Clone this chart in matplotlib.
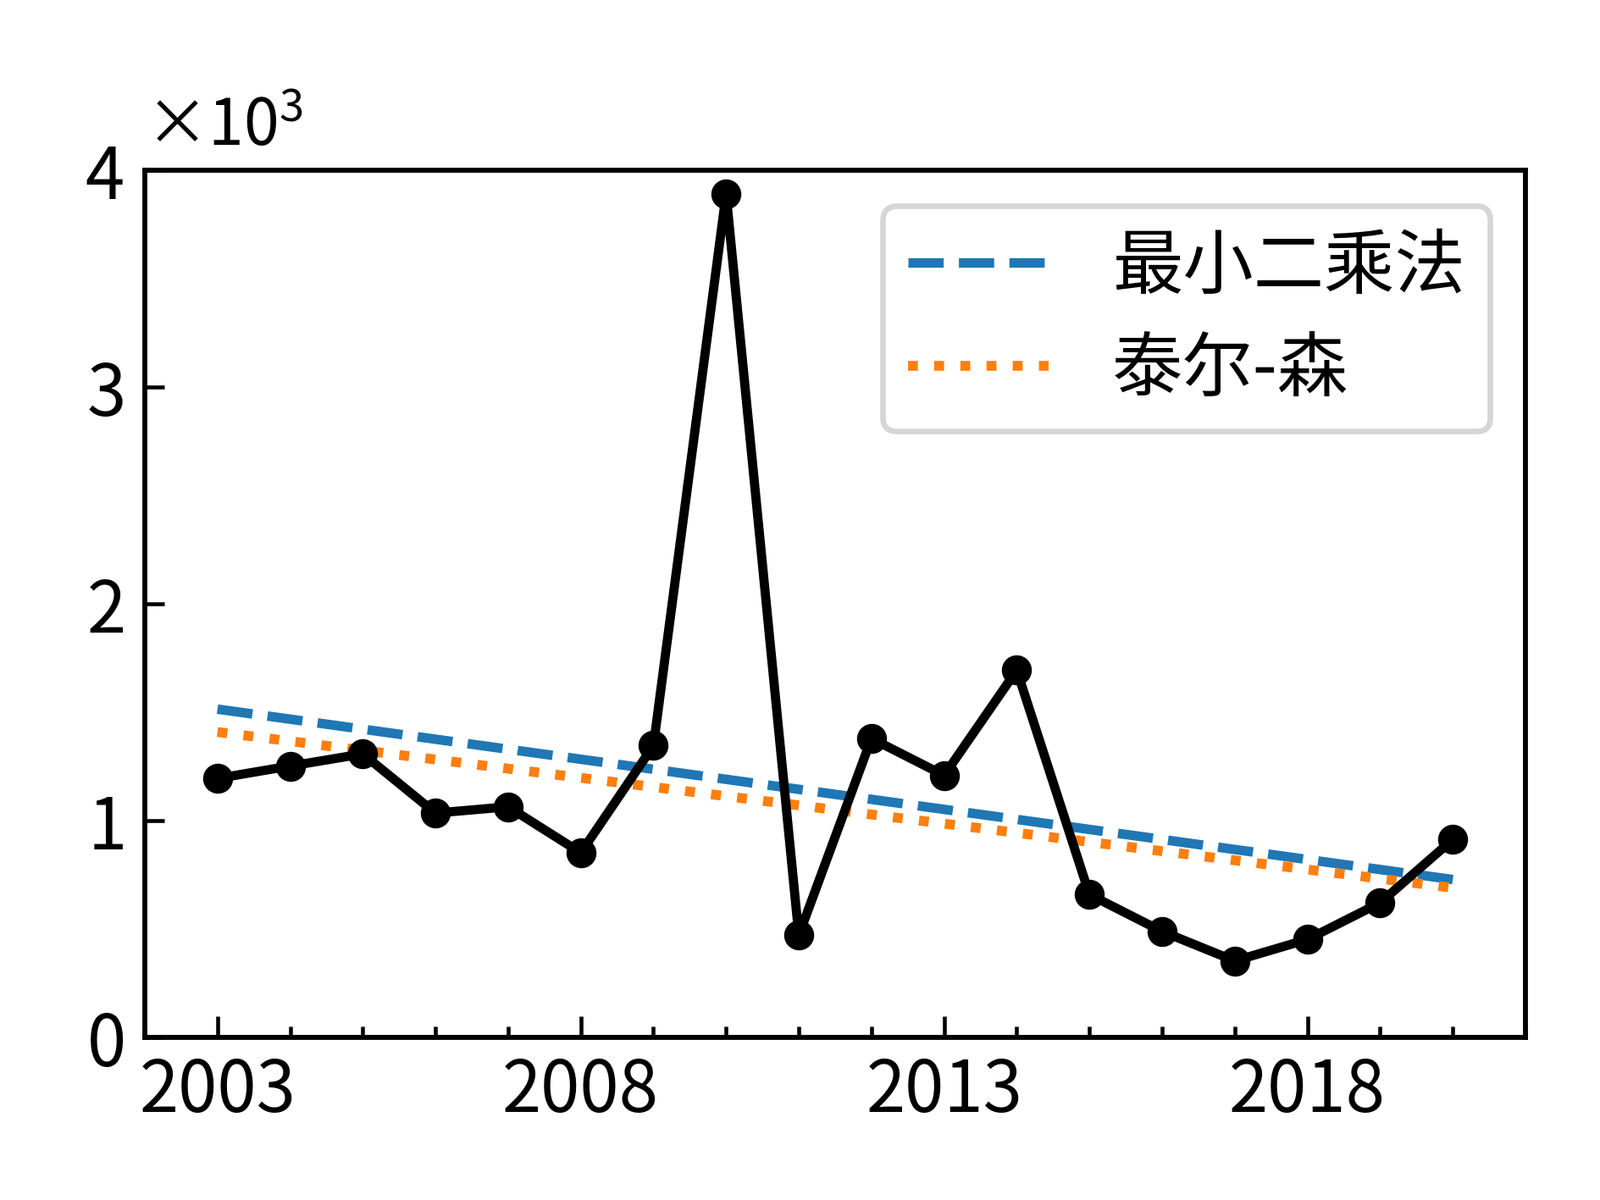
import numpy as np
import matplotlib
matplotlib.use("Agg")
import matplotlib.pyplot as plt
from matplotlib.ticker import MultipleLocator, ScalarFormatter

plt.rcParams['font.family'] = ['Noto Sans CJK SC', 'DejaVu Sans']
plt.rcParams['mathtext.fontset'] = 'custom'
plt.rcParams['mathtext.rm'] = 'Noto Sans CJK SC'
plt.rcParams['axes.unicode_minus'] = False

# data
years = list(range(2003, 2021))
values = [1195, 1252, 1308, 1035, 1064, 852, 1346, 3892, 471,
          1379, 1209, 1694, 659, 489, 353, 452, 621, 913]
labels = ["最小二乘法", "泰尔-森"]

x = np.array(years, dtype=float)
y = np.array(values, dtype=float)

# least squares fit
k_ls, b_ls = np.polyfit(x, y, 1)
# Theil-Sen fit (median slope, intercept through the medians)
slopes = [(y[j] - y[i]) / (x[j] - x[i]) for i in range(len(x)) for j in range(i + 1, len(x))]
k_ts = np.median(slopes)
b_ts = np.median(y) - k_ts * np.median(x)

fig = plt.figure(figsize=(1889 / 300, 1417 / 300), dpi=300)
ax = fig.add_axes([0.0905, 0.1355, 0.8629, 0.7225])

ax.plot(x, k_ls * x + b_ls, ls='--', color='#1f77b4', lw=2.7, label=labels[0])
ax.plot(x, k_ts * x + b_ts, ls=':', color='#ff7f0e', lw=2.8, label=labels[1])
ax.plot(x, y, '-o', color='black', lw=2.6, ms=7.5, zorder=3)

ax.set_xlim(2002, 2021)
ax.set_ylim(0, 4000)
ax.set_xticks(years[::5])
ax.xaxis.set_minor_locator(MultipleLocator(1))
ax.yaxis.set_major_locator(MultipleLocator(1000))

fmt = ScalarFormatter(useMathText=True)
fmt.set_powerlimits((0, 0))
ax.yaxis.set_major_formatter(fmt)
ax.yaxis.get_offset_text().set_fontsize(18)
ax.yaxis.OFFSETTEXTPAD = 7

ax.tick_params(axis='both', which='both', direction='in', labelsize=20)
ax.tick_params(axis='x', which='major', length=6, width=1.1, pad=5)
ax.tick_params(axis='x', which='minor', length=3.2, width=1.1)
ax.tick_params(axis='y', which='major', length=5.5, width=1.1, pad=6)
for s in ax.spines.values():
    s.set_linewidth(1.4)

leg = ax.legend(loc='upper right', fancybox=True, framealpha=1,
                prop={'size': 20, 'weight': 'medium'},
                handlelength=2.0, handletextpad=0.9, labelspacing=0.42,
                borderpad=0.35)
leg.get_frame().set_edgecolor('#d6d6d6')
leg.get_frame().set_linewidth(1.6)

fig.savefig("out.png", dpi=300)
